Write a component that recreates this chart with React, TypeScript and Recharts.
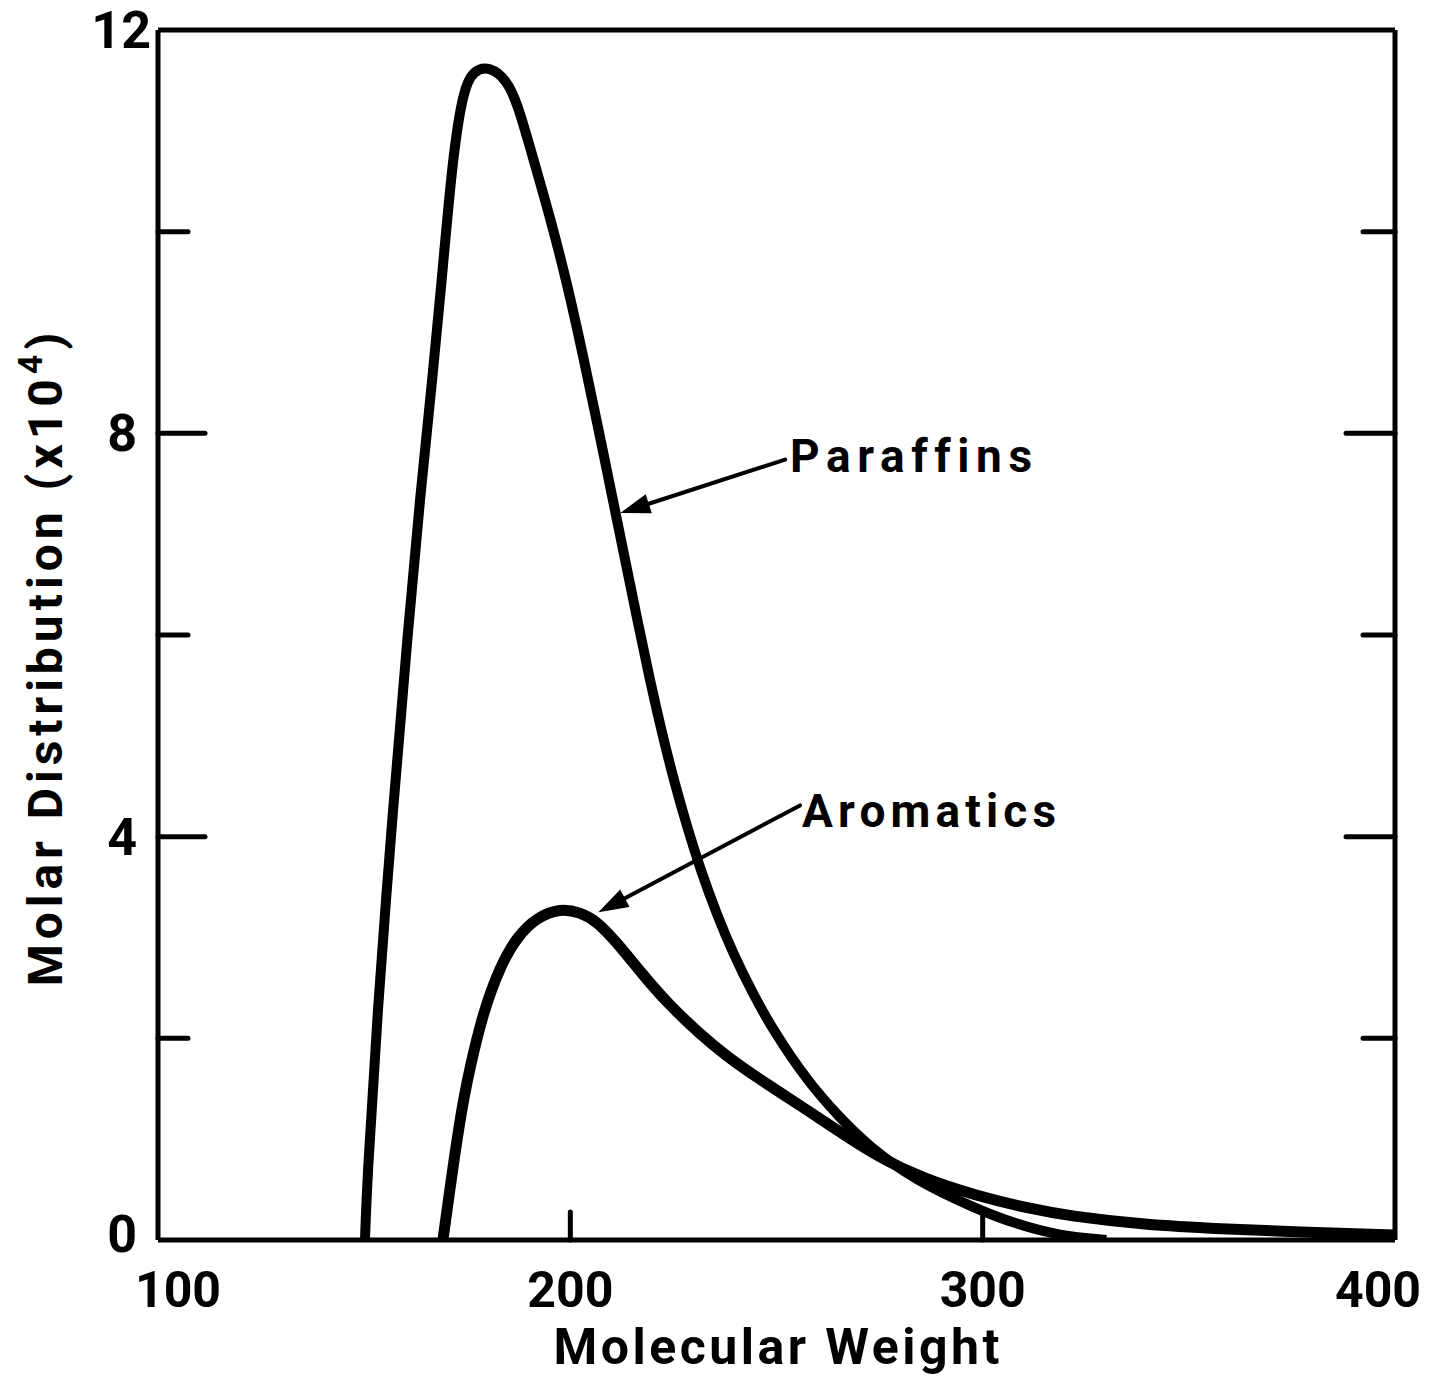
import { LineChart, Line, XAxis, YAxis, ReferenceLine, ReferenceDot } from "recharts";

// molecular weight / molar distribution (x10^4)
const paraffinMW = [
  150.2, 150.7, 153.1, 157.0, 160.6, 163.5, 166.7, 169.1, 171.5, 174.0, 176.4,
  180.5, 184.6, 187.1, 190.9, 195.1, 199.2, 203.1, 207.9, 212.1, 216.4, 219.3,
  222.5, 225.5, 228.3, 231.5, 235.6, 239.5, 244.3, 249.2, 257.4, 265.4, 272.4,
  283.6, 298.4, 307.9, 318.8, 330.0,
];
const paraffinVal = [
  0, 0.57, 2.21, 4.29, 6.03, 7.35, 8.6, 9.65, 10.75, 11.4, 11.6, 11.64, 11.5,
  11.28, 10.74, 10.14, 9.49, 8.77, 7.83, 6.98, 6.12, 5.55, 4.98, 4.5, 4.1, 3.68,
  3.22, 2.84, 2.44, 2.08, 1.58, 1.21, 0.93, 0.59, 0.31, 0.16, 0.04, 0,
];
const aromaticMW = [
  169.1, 173.2, 175.7, 178.8, 182.9, 187.1, 191.9, 197.5, 202.4, 206.5, 211.3,
  217.6, 223.5, 231.5, 238.0, 245.3, 257.4, 265.4, 274.4, 285.5, 298.4, 311.5,
  320.7, 339.4, 357.8, 376.5, 400,
];
const aromaticVal = [
  0, 1.22, 1.72, 2.25, 2.71, 3.01, 3.2, 3.29, 3.25, 3.16, 2.95, 2.63, 2.35, 2.04,
  1.82, 1.61, 1.29, 1.07, 0.83, 0.61, 0.44, 0.31, 0.24, 0.15, 0.11, 0.08, 0.05,
];

const xTicks = [100, 200, 300, 400];
const yTicks = [0, 2, 4, 6, 8, 10, 12];
const yLabels = [0, 4, 8, 12];

const paraffins = paraffinMW.map((mw, i) => ({ mw, v: paraffinVal[i] }));
const aromatics = aromaticMW.map((mw, i) => ({ mw, v: aromaticVal[i] }));

const FONT = "Roboto, 'DejaVu Sans', sans-serif";

const tickLen = (v: number) => (v === 4 || v === 8 ? 47 : v === 0 || v === 12 ? 0 : 30);

const LeftTick = (p: any) => {
  const v = p.payload.value;
  const len = tickLen(v);
  return (
    <g>
      {len > 0 && (
        <line x1={p.x} y1={p.y} x2={p.x + len} y2={p.y} stroke="#000" strokeWidth={5} strokeLinecap="round" />
      )}
      {yLabels.includes(v) && (
        <text
          x={p.x - (v === 12 ? 7 : 21)}
          y={p.y + (v === 0 ? 12 : 18)}
          textAnchor="end"
          fontSize={52}
          fontWeight={700}
          fontFamily={FONT}
          fill="#000"
        >
          {v}
        </text>
      )}
    </g>
  );
};

const RightTick = (p: any) => {
  const v = p.payload.value;
  const len = tickLen(v) + 2;
  if (len <= 2) return <g />;
  return <line x1={p.x} y1={p.y} x2={p.x - len} y2={p.y} stroke="#000" strokeWidth={5} strokeLinecap="round" />;
};

const BottomTick = (p: any) => {
  const v = p.payload.value;
  const dx = v === 100 ? 20 : v === 400 ? -17 : 0;
  return (
    <g>
      {(v === 200 || v === 300) && (
        <line x1={p.x} y1={p.y} x2={p.x} y2={p.y - 28} stroke="#000" strokeWidth={5} strokeLinecap="round" />
      )}
      <text x={p.x + dx} y={p.y + 67} textAnchor="middle" fontSize={50} fontWeight={700} fontFamily={FONT} fill="#000">
        {v}
      </text>
    </g>
  );
};

const Arrow = (p: any) => {
  const { x1, y1, x2, y2 } = p;
  const ang = Math.atan2(y2 - y1, x2 - x1);
  const L = 30;
  const W = 10;
  const bx = x2 - L * Math.cos(ang);
  const by = y2 - L * Math.sin(ang);
  const nx = -Math.sin(ang) * W;
  const ny = Math.cos(ang) * W;
  return (
    <g>
      <line x1={x1} y1={y1} x2={bx} y2={by} stroke="#000" strokeWidth={4} strokeLinecap="round" />
      <polygon points={`${x2},${y2} ${bx + nx},${by + ny} ${bx - nx},${by - ny}`} fill="#000" />
    </g>
  );
};

const noteText = (label: string, len: number) => (p: any) => (
  <text
    x={p.cx}
    y={p.cy}
    fontSize={46}
    fontWeight={700}
    fontFamily={FONT}
    textLength={len}
    lengthAdjust="spacing"
    style={{ fontVariantLigatures: "none" }}
    fill="#000"
  >
    {label}
  </text>
);

export default function App() {
  return (
    <div style={{ position: "absolute", left: 0, top: 0, background: "#fff" }}>
      <LineChart width={1435} height={1381} margin={{ top: 30, right: 30, bottom: 41, left: 38 }}>
        <XAxis
          dataKey="mw"
          type="number"
          domain={[100, 400]}
          ticks={xTicks}
          interval={0}
          height={100}
          allowDataOverflow
          axisLine={{ stroke: "#000", strokeWidth: 5 }}
          tickLine={false}
          tickSize={0}
          tickMargin={0}
          tick={BottomTick}
          label={{
            content: (lp: any) => {
              const vb = lp.viewBox;
              return (
                <text
                  x={vb.x + vb.width / 2}
                  y={vb.y + 124}
                  textAnchor="middle"
                  fontSize={50}
                  fontWeight={700}
                  fontFamily={FONT}
                  textLength={446}
                  lengthAdjust="spacing"
                  fill="#000"
                >
                  Molecular Weight
                </text>
              );
            },
          }}
        />
        <YAxis
          type="number"
          domain={[0, 12]}
          ticks={yTicks}
          interval={0}
          width={120}
          allowDataOverflow
          axisLine={{ stroke: "#000", strokeWidth: 5 }}
          tickLine={false}
          tickSize={0}
          tickMargin={0}
          tick={LeftTick}
          label={{
            content: (lp: any) => {
              const vb = lp.viewBox;
              const cx = vb.x + 24;
              const cy = vb.y + vb.height / 2 + 22;
              return (
                <text
                  transform={`translate(${cx},${cy}) rotate(-90)`}
                  textAnchor="middle"
                  fontSize={48}
                  fontWeight={700}
                  fontFamily={FONT}
                  letterSpacing={5}
                  fill="#000"
                >
                  Molar Distribution (x10
                  <tspan dy={-20} fontSize={34}>4</tspan>
                  <tspan dy={20}>)</tspan>
                </text>
              );
            },
          }}
        />
        <YAxis
          yAxisId="right"
          orientation="right"
          type="number"
          domain={[0, 12]}
          ticks={yTicks}
          interval={0}
          width={10}
          allowDataOverflow
          axisLine={{ stroke: "#000", strokeWidth: 5 }}
          tickLine={false}
          tickSize={0}
          tickMargin={0}
          tick={RightTick}
        />
        <ReferenceLine y={12} stroke="#000" strokeWidth={5} />

        <Line
          data={paraffins}
          dataKey="v"
          type="basis"
          stroke="#000"
          strokeWidth={10}
          dot={false}
          isAnimationActive={false}
        />
        <Line
          data={aromatics}
          dataKey="v"
          type="basis"
          stroke="#000"
          strokeWidth={11}
          dot={false}
          isAnimationActive={false}
        />

        {/* annotations */}
        <ReferenceLine
          segment={[
            { x: 252.1, y: 7.74 },
            { x: 212.1, y: 7.21 },
          ]}
          shape={Arrow}
        />
        <ReferenceLine
          segment={[
            { x: 255.7, y: 4.31 },
            { x: 206.8, y: 3.25 },
          ]}
          shape={Arrow}
        />
        <ReferenceDot x={253.3} y={7.62} r={0} shape={noteText("Paraffins", 242)} />
        <ReferenceDot x={256.2} y={4.1} r={0} shape={noteText("Aromatics", 254)} />
      </LineChart>
    </div>
  );
}
